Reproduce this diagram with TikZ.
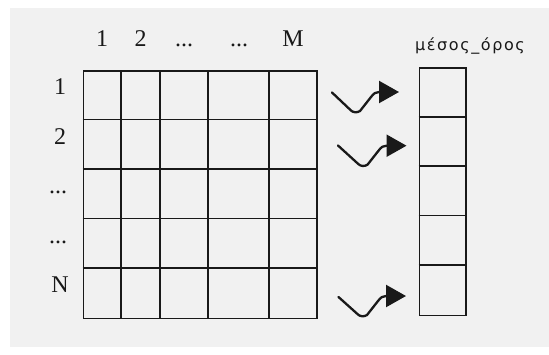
\documentclass[tikz,border=0pt]{standalone}
\usepackage{fontspec}
\setmainfont{Liberation Serif}
\newfontfamily\greekfont[LetterSpace=10]{DejaVu Sans}
\usetikzlibrary{arrows.meta,calc}
\definecolor{bgpaper}{RGB}{241,241,241}
\definecolor{ink}{RGB}{25,25,25}
\tikzset{
  lbl/.style={anchor=base, inner sep=0pt, font=\fontsize{24}{26}\selectfont, text=ink},
  gridline/.style={draw=ink, line width=1.6pt},
  squig/.style={draw=ink, line width=2.3pt, line join=round, line cap=round,
    -{Triangle[length=20pt,width=22pt]}}
}
\newcommand\sqarrow[2]{%
  \draw[squig] (#1) -- ($(#2)+(-48,18.5)$)
    .. controls ($(#2)+(-46,20.5)$) and ($(#2)+(-42,21)$) .. ($(#2)+(-39,19)$)
    -- ($(#2)+(-28,5)$)
    .. controls ($(#2)+(-25,1)$) and ($(#2)+(-23,0)$) .. ($(#2)+(-20,0)$)
    -- (#2);}
\begin{document}
\begin{tikzpicture}[x=1pt,y=-1pt]
\useasboundingbox (0,0) rectangle (549,354);
\fill[white] (0,0) rectangle (549,354);
\fill[bgpaper] (10,8) rectangle (549,347);
% main grid
\node[gridline, rectangle, minimum width=233.5pt, minimum height=247.5pt, inner sep=0pt, anchor=north west] (grid) at (82.5,70) {};
\foreach \x in {121,160,208,269} \draw[gridline] (\x,70) -- (\x,317.5);
\foreach \y in {119.5,169,218.5,268} \draw[gridline] (82.5,\y) -- (316,\y);
% result column
\node[gridline, rectangle, minimum width=46.8pt, minimum height=247.2pt, inner sep=0pt, anchor=north west] (col) at (418.5,67.3) {};
\foreach \y in {116.7,166.2,215.6,265} \draw[gridline] (418.5,\y) -- (465.3,\y);
% headers
\node[lbl] (h1) at (102,46) {1};
\node[lbl] (h2) at (140.5,46) {2};
\node[lbl] (h3) at (184,46) {...};
\node[lbl] (h4) at (239,46) {...};
\node[lbl] (h5) at (293,46) {M};
% row labels
\node[lbl] (r1) at (60,94.7) {1};
\node[lbl] (r2) at (60,144.2) {2};
\node[lbl] (r3) at (58,193.8) {...};
\node[lbl] (r4) at (58,243.3) {...};
\node[lbl] (r5) at (60,292.8) {N};
% column title
\node[anchor=base west, inner sep=0pt, font=\greekfont\fontsize{16}{18}\selectfont, text=ink] (title) at (415,50) {μέσος\_όρος};
% arrows
\coordinate (s1) at (332,92.5); \coordinate (t1) at (399,92);
\coordinate (s2) at (338,145.5); \coordinate (t2) at (406.5,145.7);
\coordinate (s3) at (338.5,297); \coordinate (t3) at (406,296);
\sqarrow{s1}{t1}
\sqarrow{s2}{t2}
\sqarrow{s3}{t3}
\end{tikzpicture}
\end{document}
